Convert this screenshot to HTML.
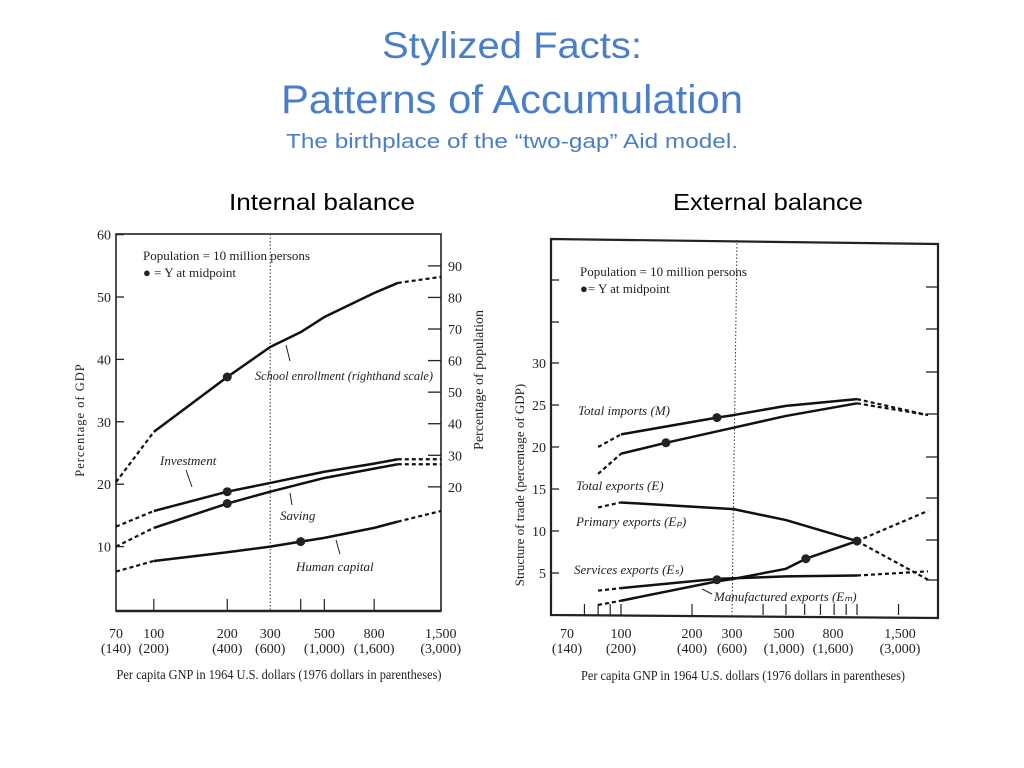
<!DOCTYPE html>
<html><head><meta charset="utf-8"><style>
html,body{margin:0;padding:0;background:#fff;}
svg{display:block;}
</style></head><body>
<svg id="s" width="1024" height="768" viewBox="0 0 1024 768" xmlns="http://www.w3.org/2000/svg" font-family="Liberation Serif, serif">
<rect width="1024" height="768" fill="#fff"/>
<g font-family="Liberation Sans, sans-serif" fill="#4a7fc8" text-anchor="middle">
<text x="512" y="58" font-size="37" textLength="260" lengthAdjust="spacingAndGlyphs">Stylized Facts:</text>
<text x="512" y="113" font-size="40" textLength="462" lengthAdjust="spacingAndGlyphs">Patterns of Accumulation</text>
<text x="512" y="148" font-size="20" textLength="452" lengthAdjust="spacingAndGlyphs">The  birthplace of the “two-gap” Aid model.</text>
</g>
<text x="322" y="210" font-family="Liberation Sans, sans-serif" font-size="23" text-anchor="middle" textLength="186" lengthAdjust="spacingAndGlyphs">Internal balance</text>
<text x="768" y="210" font-family="Liberation Sans, sans-serif" font-size="23" text-anchor="middle" textLength="190" lengthAdjust="spacingAndGlyphs">External balance</text>
<g id="left"></g>
<g id="right"></g>
</svg>
<script>
// ---------- Left chart data ----------
const lxTicks = [70,100,200,300,500,800,1500];
const lxLabels = ["70","100","200","300","500","800","1,500"];
const lxLabels2 = ["(140)","(200)","(400)","(600)","(1,000)","(1,600)","(3,000)"];
const lyTicks = [10,20,30,40,50,60];
const lyRightTicks = [20,30,40,50,60,70,80,90];
const schoolX = [70,100,200,300,400,500,800,1000,1500];
const schoolY = [21.5,37.4,54.8,64.3,69,73.8,81.4,84.6,86.5];
const investX = [70,100,200,300,500,800,1000,1500];
const investY = [13.2,15.7,18.8,20.2,22,23.3,24,24];
const savingX = [70,100,200,300,500,800,1000,1500];
const savingY = [10,13,16.9,18.8,21,22.5,23.2,23.2];
const humanX = [70,100,200,300,400,500,800,1000,1500];
const humanY = [6,7.7,9.1,10,10.8,11.4,13,14,15.7];

// ---------- Right chart data ----------
const rxTicks = [70,100,200,300,500,800,1500];
const rxLabels = ["70","100","200","300","500","800","1,500"];
const rxLabels2 = ["(140)","(200)","(400)","(600)","(1,000)","(1,600)","(3,000)"];
const ryTicks = [5,10,15,20,25,30];
const importsX = [80,100,255,300,500,1000,2000];
const importsY = [20,21.5,23.5,23.8,24.9,25.7,23.8];
const exportsX = [80,100,155,300,500,1000,2000];
const exportsY = [16.8,19.2,20.5,22.3,23.7,25.2,23.8];
const primaryX = [80,100,300,500,1000,2000];
const primaryY = [12.8,13.4,12.6,11.3,8.8,4.2];
const servicesX = [80,100,255,500,1000,2000];
const servicesY = [2.9,3.2,4.3,4.6,4.7,5.2];
const manufX = [80,100,255,300,500,607,1000,2000];
const manufY = [1.2,1.7,4.0,4.3,5.5,6.7,8.8,12.4];

const NS="http://www.w3.org/2000/svg";
function mk(parent,tag,attrs,text){const e=document.createElementNS(NS,tag);for(const k in attrs)e.setAttribute(k,attrs[k]);if(text!==undefined)e.textContent=text;parent.appendChild(e);return e;}

const lx = v => 116 + 244*(Math.log10(v)-Math.log10(70));
const ly = v => 609 - 6.24*v;
const lyR = v => 550 - 3.157*v;
const rx = v => 621 + 236*(Math.log10(v)-2);
const ry = v => 615 - 8.4*v;

function series(g,xs,ys,fx,fy,dashFirst,dashLast,name){
  const pts = xs.map((x,i)=>[fx(x),fy(ys[i])]);
  const n=pts.length;
  const solid = pts.slice(dashFirst?1:0, dashLast?n-1:n);
  let p = mk(g,'polyline',{points:solid.map(p=>p.join(',')).join(' '),fill:'none',stroke:'#111','stroke-width':2.5,'stroke-linejoin':'round'});
  
  
  if(dashFirst){let d=mk(g,'line',{x1:pts[0][0],y1:pts[0][1],x2:pts[1][0],y2:pts[1][1],stroke:'#111','stroke-width':2.2,'stroke-dasharray':'4,3'});
    
    }
  if(dashLast){let d=mk(g,'line',{x1:pts[n-2][0],y1:pts[n-2][1],x2:pts[n-1][0],y2:pts[n-1][1],stroke:'#111','stroke-width':2.2,'stroke-dasharray':'4,3'});
    
    }
}
function dot(g,x,y,name){const c=mk(g,'circle',{cx:x,cy:y,r:4.5,fill:'#222'});
  
  }
function txt(g,x,y,s,t,attrs,name){const e=mk(g,'text',Object.assign({x:x,y:y,'font-size':s,fill:'#222'},attrs||{}),t);
  
  return e;}

// ===== LEFT =====
const L=document.getElementById('left');
let r=mk(L,'rect',{x:116,y:234,width:325,height:377,fill:'none',stroke:'#222','stroke-width':1.6});


mk(L,'line',{x1:116,y1:611,x2:441,y2:611,stroke:'#222','stroke-width':2.5});
let vl=mk(L,'line',{x1:lx(300),y1:234,x2:lx(300),y2:611,stroke:'#333','stroke-width':1,'stroke-dasharray':'1.5,2'});


lyTicks.forEach(v=>{mk(L,'line',{x1:116,y1:ly(v),x2:124,y2:ly(v),stroke:'#222','stroke-width':1.3});
  txt(L,111,ly(v)+5,14,String(v),{'text-anchor':'end'},'left-y-tick-label');});
lyRightTicks.forEach(v=>{mk(L,'line',{x1:428,y1:lyR(v),x2:441,y2:lyR(v),stroke:'#222','stroke-width':1.3});
  txt(L,448,lyR(v)+5,14,String(v),{},'left-y2-tick-label');});
[100,200,400,500,800].forEach(v=>{mk(L,'line',{x1:lx(v),y1:611,x2:lx(v),y2:599,stroke:'#222','stroke-width':1.2});});
lxTicks.forEach((v,i)=>{const x=lx(v);
  txt(L,x,638,14,lxLabels[i],{'text-anchor':'middle'},'left-x-tick-label');
  txt(L,x,653,14,lxLabels2[i],{'text-anchor':'middle'},'left-x-tick-label-1976');});
txt(L,279,679,13.5,'Per capita GNP in 1964 U.S. dollars (1976 dollars in parentheses)',{'text-anchor':'middle',textLength:325,lengthAdjust:'spacingAndGlyphs'},'left-x-axis-title');
txt(L,0,0,12.5,'Percentage of GDP',{'text-anchor':'middle',transform:'translate(84,420) rotate(-90)','letter-spacing':'1'},'left-y-axis-title');
txt(L,0,0,14,'Percentage of population',{'text-anchor':'middle',transform:'translate(483,380) rotate(-90)'},'left-y2-axis-title');
txt(L,143,260,13,'Population = 10 million persons',{},'left-legend-population');
txt(L,143,277,13,'● = Y at midpoint',{},'left-legend-midpoint');
series(L,schoolX,schoolY,lx,lyR,true,true,'school-enrollment');
series(L,investX,investY,lx,ly,true,true,'investment');
series(L,savingX,savingY,lx,ly,true,true,'saving');
series(L,humanX,humanY,lx,ly,true,true,'human-capital');
dot(L,lx(200),lyR(54.8),'school-midpoint');
dot(L,lx(200),ly(18.8),'investment-midpoint');
dot(L,lx(200),ly(16.9),'saving-midpoint');
dot(L,lx(400),ly(10.8),'human-capital-midpoint');
txt(L,255,380,13,'School enrollment (righthand scale)',{'font-style':'italic',textLength:178,lengthAdjust:'spacingAndGlyphs'},'school-enrollment-label');
mk(L,'line',{x1:290,y1:361,x2:286,y2:345,stroke:'#222'});
txt(L,160,465,13,'Investment',{'font-style':'italic'},'investment-label');
mk(L,'line',{x1:186,y1:470,x2:192,y2:487,stroke:'#222'});
txt(L,280,520,13,'Saving',{'font-style':'italic'},'saving-label');
mk(L,'line',{x1:292,y1:505,x2:290,y2:493,stroke:'#222'});
txt(L,296,571,13,'Human capital',{'font-style':'italic'},'human-capital-label');
mk(L,'line',{x1:340,y1:554,x2:336,y2:540,stroke:'#222'});

// ===== RIGHT =====
const R=document.getElementById('right');
let rf=mk(R,'path',{d:'M551,239 L938,244 L938,618 L551,615 Z',fill:'none',stroke:'#222','stroke-width':2.2});


let vr=mk(R,'line',{x1:737,y1:240,x2:732,y2:615,stroke:'#333','stroke-width':1,'stroke-dasharray':'1.5,2'});


ryTicks.forEach(v=>{mk(R,'line',{x1:551,y1:ry(v),x2:559,y2:ry(v),stroke:'#222','stroke-width':1.3});
  txt(R,546,ry(v)+5,14,String(v),{'text-anchor':'end'},'right-y-tick-label');});
[280,322].forEach(y=>mk(R,'line',{x1:551,y1:y,x2:559,y2:y,stroke:'#222','stroke-width':1.3}));
[287,329,372,414,457,498,540,580].forEach(y=>mk(R,'line',{x1:926,y1:y,x2:938,y2:y,stroke:'#222','stroke-width':1.3}));
[70,80,90,100,200,400,500,600,700,800,900,1000,1500].forEach(v=>mk(R,'line',{x1:rx(v),y1:615,x2:rx(v),y2:604,stroke:'#222','stroke-width':1.2}));
const rLabelX=[567,621,692,732,784,833,900];
rxTicks.forEach((v,i)=>{const x=rLabelX[i];
  txt(R,x,638,14,rxLabels[i],{'text-anchor':'middle'},'right-x-tick-label');
  txt(R,x,653,14,rxLabels2[i],{'text-anchor':'middle'},'right-x-tick-label-1976');});
txt(R,743,680,14,'Per capita GNP in 1964 U.S. dollars (1976 dollars in parentheses)',{'text-anchor':'middle',textLength:324,lengthAdjust:'spacingAndGlyphs'},'right-x-axis-title');
txt(R,0,0,13,'Structure of trade (percentage of GDP)',{'text-anchor':'middle',transform:'translate(524,485) rotate(-90)'},'right-y-axis-title');
txt(R,580,276,13,'Population = 10 million persons',{},'right-legend-population');
txt(R,580,293,13,'●= Y at midpoint',{},'right-legend-midpoint');
series(R,importsX,importsY,rx,ry,true,true,'total-imports');
series(R,exportsX,exportsY,rx,ry,true,true,'total-exports');
series(R,primaryX,primaryY,rx,ry,true,true,'primary-exports');
series(R,servicesX,servicesY,rx,ry,true,true,'services-exports');
series(R,manufX,manufY,rx,ry,true,true,'manufactured-exports');
dot(R,rx(255),ry(23.5),'imports-midpoint');
dot(R,rx(155),ry(20.5),'exports-midpoint');
dot(R,rx(255),ry(4.2),'services-midpoint');
dot(R,rx(607),ry(6.7),'manufactured-midpoint');
dot(R,rx(1000),ry(8.8),'primary-midpoint');
txt(R,578,415,13,'Total imports (M)',{'font-style':'italic'},'total-imports-label');
txt(R,576,490,13,'Total exports (E)',{'font-style':'italic'},'total-exports-label');
txt(R,576,526,13,'Primary exports (Eₚ)',{'font-style':'italic'},'primary-exports-label');
txt(R,574,574,13,'Services exports (Eₛ)',{'font-style':'italic'},'services-exports-label');
txt(R,714,601,13,'Manufactured exports (Eₘ)',{'font-style':'italic'},'manufactured-exports-label');
mk(R,'line',{x1:712,y1:594,x2:702,y2:589,stroke:'#222'});
</script>
</body></html>
